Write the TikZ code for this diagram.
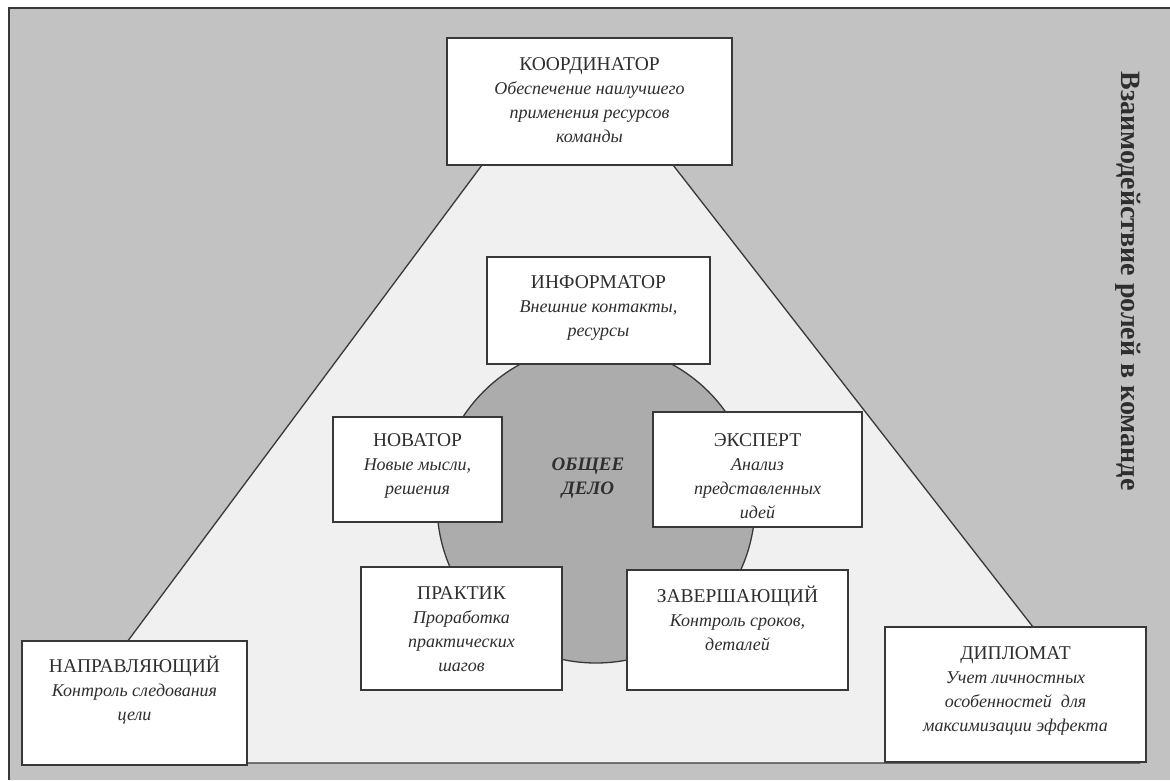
\documentclass[tikz,border=0pt]{standalone}
\usepackage{fontspec}
\setmainfont{Liberation Serif}
\definecolor{bggray}{HTML}{C2C2C2}
\definecolor{trapfill}{HTML}{F0F0F0}
\definecolor{circfill}{HTML}{ACACAC}
\definecolor{inkline}{HTML}{383838}
\definecolor{inktext}{HTML}{2E2E2E}
\tikzset{
  rolebox/.style={draw=inkline, fill=white, line width=1.4pt, inner sep=0pt, outer sep=0pt},
  roletext/.style={anchor=north, align=center, inner sep=0pt, text=inktext,
    font=\fontsize{18}{24}\selectfont},
  outline/.style={draw=inkline, line width=1.3pt}
}
\newcommand{\tstrut}{\rule{0pt}{16pt}}
\newcommand{\roletitle}[1]{{\fontsize{19.5}{24}\selectfont\tstrut #1}}
\begin{document}
\begin{tikzpicture}[x=1pt,y=-1pt]
\useasboundingbox (0,0) rectangle (1170,780);
\fill[white] (0,0) rectangle (1170,780);
\fill[bggray] (9,8) rectangle (1170,780);
\draw[outline] (9,780) -- (9,8) -- (1170,8);
% trapezoid
\filldraw[outline, fill=trapfill] (482,165) -- (673,165) -- (1139,763) -- (37,763) -- cycle;
% common circle
\filldraw[outline, fill=circfill] (596,504) circle[radius=159];
\node[align=center, inner sep=0pt, text=inktext, font=\fontsize{19}{24}\selectfont\bfseries\itshape] (common) at (588,478) {ОБЩЕЕ\\ДЕЛО};
% boxes
\node[rolebox, minimum width=285, minimum height=127] (koord) at (589.5,101.5) {};
\node[rolebox, minimum width=223, minimum height=107] (inform) at (598.5,310.5) {};
\node[rolebox, minimum width=169, minimum height=105] (novator) at (417.5,469.5) {};
\node[rolebox, minimum width=209, minimum height=115] (expert) at (757.5,469.5) {};
\node[rolebox, minimum width=201, minimum height=123] (praktik) at (461.5,628.5) {};
\node[rolebox, minimum width=221, minimum height=120] (zaversh) at (737.5,630) {};
\node[rolebox, minimum width=225, minimum height=124] (napravl) at (134.5,703) {};
\node[rolebox, minimum width=261, minimum height=135] (diplomat) at (1015.5,694.5) {};
% texts
\node[roletext] (koordt) at ([yshift=-16pt]koord.north) {\roletitle{КООРДИНАТОР}\\\itshape Обеспечение наилучшего\\\itshape применения ресурсов\\\itshape команды};
\node[roletext] (informt) at ([yshift=-15pt]inform.north) {\roletitle{ИНФОРМАТОР}\\\itshape Внешние контакты,\\\itshape ресурсы};
\node[roletext] (novatort) at ([yshift=-13pt]novator.north) {\roletitle{НОВАТОР}\\\itshape Новые мысли,\\\itshape решения};
\node[roletext] (expertt) at ([yshift=-18pt]expert.north) {\roletitle{ЭКСПЕРТ}\\\itshape Анализ\\\itshape представленных\\\itshape идей};
\node[roletext] (praktikt) at ([yshift=-16pt]praktik.north) {\roletitle{ПРАКТИК}\\\itshape Проработка\\\itshape практических\\\itshape шагов};
\node[roletext] (zavershst) at ([yshift=-16pt]zaversh.north) {\roletitle{ЗАВЕРШАЮЩИЙ}\\\itshape Контроль сроков,\\\itshape деталей};
\node[roletext] (napravlt) at ([yshift=-15pt]napravl.north) {\roletitle{НАПРАВЛЯЮЩИЙ}\\\itshape Контроль следования\\\itshape цели};
\node[roletext] (diplomatt) at ([yshift=-16pt]diplomat.north) {\roletitle{ДИПЛОМАТ}\\\itshape Учет личностных\\\itshape особенностей\ \ для\\\itshape максимизации эффекта};
% vertical title
\node[rotate=-90, inner sep=0pt, text=inktext, font=\fontsize{28}{32}\selectfont\bfseries] (title) at (1128,281) {Взаимодействие ролей в команде};
\end{tikzpicture}
\end{document}
